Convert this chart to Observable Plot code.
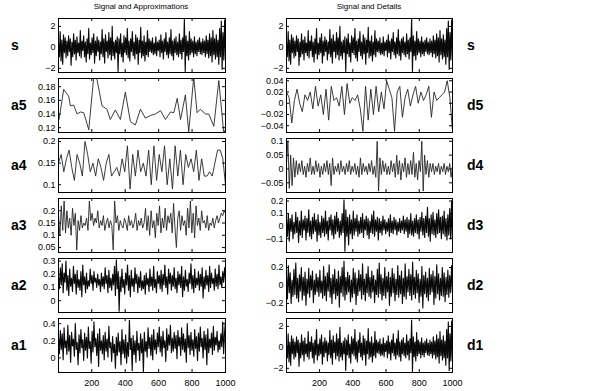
<!DOCTYPE html>
<html>
<head>
<meta charset="utf-8">
<script src="https://cdn.jsdelivr.net/npm/d3@7"></script>
<script src="https://cdn.jsdelivr.net/npm/@observablehq/plot@0.6"></script>
<style>
  html, body { margin: 0; padding: 0; background: white; }
  #chart { position: relative; width: 600px; height: 391px; overflow: hidden; font-family: "Liberation Sans", Arial, Helvetica, sans-serif; }
  .pan { position: absolute; }
  .ttl { position: absolute; font-size: 8px; color: #000; text-align: center; width: 200px; }
  .lab { position: absolute; font-size: 14px; font-weight: bold; color: #000; line-height: 14px; }
</style>
</head>
<body>
<div id="chart"></div>
<script>
// ---------- data ----------
const X_TICKS = [200, 400, 600, 800, 1000];

const S = [
 0.4,-0.9,1.5,-1.3,0.7,-1.6,1.2,-0.5,0.9,-1.0,
 0.6,-0.8,1.1,-0.4,0.8,-1.7,0.5,-0.9,1.3,-0.6,
 0.7,-1.2,1.0,-0.5,0.4,-0.8,1.6,-1.0,0.6,-0.3,
 1.1,-0.9,0.5,-1.4,0.8,-0.6,1.8,-1.1,0.4,-0.7,
 0.9,-0.5,1.3,-1.5,0.6,-0.8,1.0,-0.4,0.7,-1.2,
 0.5,-0.6,1.7,-0.9,0.8,-1.5,1.2,-0.4,0.6,-1.0,
 1.4,-0.7,0.9,-1.2,2.0,-0.8,0.5,-1.1,0.7,-0.5,
 1.0,-2.3,0.8,-0.6,1.3,-0.9,0.4,-1.4,1.1,-0.5,
 0.9,-0.7,1.8,-1.0,0.6,-1.3,0.8,-0.4,1.5,-0.8,
 0.5,-1.1,1.2,-0.6,0.9,-1.6,0.7,-0.5,1.9,-1.0,
 0.6,-0.8,1.1,-1.3,0.5,-0.7,1.6,-0.9,0.8,-0.4,
 0.6,-0.5,0.9,-0.7,0.4,-0.6,1.0,-0.8,0.5,-0.3,
 0.7,-0.9,1.2,-0.5,0.6,-1.1,0.8,-0.4,1.4,-0.7,
 0.5,-1.0,0.9,-0.6,1.7,-0.8,0.6,-1.2,0.8,-0.5,
 1.0,-0.7,0.5,-0.9,1.3,-0.6,0.7,-1.1,0.9,-0.4,
 2.7,-2.3,1.1,-0.8,0.6,-1.2,1.5,-0.7,0.8,-0.5,
 0.6,-0.9,1.0,-0.6,0.5,-0.8,0.7,-0.4,0.9,-0.6,
 0.5,-0.7,0.8,-0.5,0.6,-0.9,1.1,-0.6,0.7,-1.0,
 1.3,-0.8,0.9,-1.4,1.6,-0.7,0.8,-1.1,1.2,-0.9,
 0.7,-1.6,1.8,-0.9,2.5,-2.1,1.4,-1.2,2.6,-1.0
];

const A5_T = [4,32,62,72,92,112,132,152,182,212,232,261,291,311,341,371,401,431,461,491,521,551,581,611,641,671,691,711,731,760,780,810,830,850,880,900,930,960,990,1000];
const A5 = [0.132,0.176,0.166,0.152,0.153,0.140,0.143,0.142,0.117,0.195,0.190,0.152,0.147,0.132,0.146,0.132,0.172,0.129,0.124,0.147,0.134,0.138,0.140,0.145,0.132,0.143,0.142,0.163,0.132,0.168,0.114,0.194,0.142,0.147,0.140,0.140,0.122,0.189,0.111,0.118];

const A4 = [
 0.15,0.17,0.13,0.16,0.18,0.14,0.11,0.17,0.15,0.12,
 0.20,0.17,0.13,0.15,0.12,0.16,0.14,0.11,0.15,0.17,
 0.12,0.13,0.14,0.12,0.16,0.13,0.19,0.09,0.17,0.12,
 0.18,0.13,0.15,0.12,0.18,0.10,0.19,0.11,0.17,0.13,
 0.19,0.10,0.16,0.09,0.19,0.12,0.18,0.10,0.17,0.14,
 0.16,0.13,0.18,0.11,0.16,0.12,0.12,0.13,0.12,0.15,
 0.18,0.18,0.16,0.10
];

const A3 = [
 0.18,0.10,0.22,0.12,0.24,0.11,0.20,0.13,0.17,0.10,
 0.21,0.14,0.19,0.04,0.16,0.12,0.18,0.13,0.15,0.14,
 0.17,0.12,0.24,0.16,0.19,0.14,0.17,0.15,0.20,0.13,
 0.16,0.14,0.18,0.12,0.15,0.17,0.13,0.16,0.14,0.04,
 0.24,0.15,0.18,0.12,0.16,0.14,0.13,0.17,0.15,0.12,
 0.18,0.14,0.16,0.13,0.15,0.19,0.12,0.16,0.14,0.17,
 0.13,0.15,0.21,0.12,0.18,0.10,0.20,0.13,0.16,0.09,
 0.19,0.14,0.22,0.11,0.17,0.13,0.21,0.12,0.18,0.15,
 0.19,0.11,0.23,0.13,0.05,0.17,0.20,0.12,0.18,0.14,
 0.16,0.10,0.21,0.13,0.24,0.11,0.19,0.09,0.22,0.14,
 0.17,0.12,0.20,0.15,0.16,0.13,0.18,0.12,0.15,0.14,
 0.17,0.13,0.16,0.18,0.15,0.17,0.19,0.18,0.20,0.19
];

const A2 = [
 0.18,0.09,0.25,0.12,0.28,0.06,0.21,0.14,0.30,0.08,
 0.19,0.04,0.24,0.11,0.17,0.07,0.26,0.13,0.20,0.05,
 0.23,0.10,0.16,0.08,0.22,0.03,0.27,0.12,0.18,0.06,
 0.21,0.09,0.15,0.11,0.24,0.13,0.19,0.08,0.22,0.14,
 0.17,0.10,0.20,0.12,0.16,0.07,0.21,0.11,0.18,0.09,
 0.25,0.13,0.19,0.06,0.23,0.10,0.17,0.08,0.20,0.12,
 0.26,0.04,0.31,0.09,0.22,-0.08,0.18,0.07,0.24,0.10,
 0.16,0.05,0.21,0.12,0.27,0.08,0.19,0.03,0.23,0.11,
 0.17,0.07,0.25,0.13,0.20,0.06,0.18,0.10,0.22,0.08,
 0.15,0.09,0.19,0.05,0.21,0.12,0.17,0.07,0.24,0.11,
 0.18,0.08,0.26,0.10,0.16,0.06,0.22,0.13,0.19,0.09,
 0.23,0.07,0.20,0.12,0.27,0.10,0.18,0.05,0.24,0.13,
 0.21,0.08,0.19,0.11,0.25,0.09,0.17,0.06,0.22,0.12,
 0.20,0.10,0.26,0.03,0.18,0.08,0.23,0.11,0.16,0.07,
 0.21,0.13,0.28,0.09,0.19,0.06,0.24,0.10,0.17,0.12,
 0.22,0.08,0.20,0.11,0.25,0.02,0.18,0.09,0.23,0.12,
 0.19,0.07,0.26,0.10,0.21,0.13,0.17,0.08,0.24,0.11,
 0.20,0.09,0.27,0.12,0.18,0.10,0.22,0.14,0.25,0.16
];

const A1 = [
 0.25,0.05,0.32,0.10,0.28,-0.02,0.35,0.12,0.20,0.04,
 0.38,0.08,0.26,-0.05,0.30,0.14,0.22,0.02,0.40,0.10,
 0.18,-0.08,0.27,0.06,0.33,0.12,0.21,-0.03,0.29,0.09,
 0.24,0.00,0.36,0.11,0.19,-0.06,0.31,0.07,0.42,0.13,
 0.23,0.03,0.28,-0.10,0.34,0.09,0.20,0.05,0.26,-0.02,
 0.30,0.08,0.22,0.01,0.37,0.12,0.18,-0.04,0.25,0.06,
 0.16,-0.12,0.24,0.03,0.29,0.07,0.19,-0.08,0.33,0.05,
 0.21,0.00,0.27,-0.06,0.18,0.02,0.44,0.10,0.23,-0.15,
 0.26,0.04,0.20,-0.05,0.31,0.09,0.17,-0.03,0.28,0.06,
 0.22,-0.16,0.30,0.08,0.19,0.01,0.35,0.11,0.24,0.03,
 0.27,-0.02,0.33,0.10,0.21,0.05,0.29,0.13,0.36,0.07,
 0.25,0.02,0.31,0.12,0.20,-0.04,0.34,0.09,0.27,0.15,
 0.38,0.06,0.23,0.08,0.30,0.11,0.26,-0.01,0.32,0.14,
 0.24,0.03,0.35,0.10,0.28,0.07,0.22,-0.05,0.40,0.12,
 0.26,0.04,0.30,0.09,0.21,0.02,0.33,0.11,0.25,-0.03,
 0.29,0.08,0.36,0.13,0.23,0.00,0.31,0.10,0.27,-0.08,
 0.34,0.06,0.22,0.12,0.29,0.04,0.37,0.09,0.24,0.15,
 0.31,0.07,0.20,0.10,0.28,0.13,0.42,0.05,0.30,0.44
];

const D5 = [
 0.020,0.010,-0.035,0.005,0.025,0.000,-0.015,0.015,0.005,0.020,
 -0.010,0.030,-0.005,0.015,-0.020,0.025,-0.030,0.030,0.005,0.010,
 -0.005,0.030,-0.020,0.035,0.000,0.010,0.005,0.015,-0.010,-0.050,
 0.030,-0.030,0.025,-0.020,0.030,-0.015,0.020,-0.010,0.040,0.025,
 0.010,-0.050,0.020,0.030,-0.025,0.010,0.025,-0.005,0.015,0.030,
 0.000,0.020,0.005,0.015,0.030,-0.025,0.020,0.005,0.010,0.015,
 0.020,0.040,0.010,-0.050
];

const D4 = [
 0.02,0.10,-0.07,0.05,-0.06,0.04,-0.03,0.03,-0.02,0.02,
 -0.01,0.03,-0.02,0.01,-0.03,0.02,-0.01,0.04,-0.02,0.01,
 -0.02,0.03,-0.01,0.02,-0.03,0.01,-0.02,0.02,-0.01,0.03,
 -0.02,0.02,-0.06,0.04,-0.02,0.01,-0.01,0.02,-0.02,0.03,
 -0.01,0.01,-0.02,0.02,-0.01,0.03,-0.02,0.01,-0.01,0.02,
 -0.02,0.01,-0.03,0.04,-0.02,0.02,-0.01,0.01,-0.02,0.02,
 -0.01,0.03,-0.02,0.01,-0.03,0.10,-0.08,0.04,-0.02,0.03,
 -0.01,0.02,-0.02,0.01,-0.02,0.03,-0.01,0.02,-0.03,0.05,
 -0.02,0.03,-0.04,0.02,-0.01,0.04,-0.03,0.02,-0.02,0.03,
 -0.02,0.06,-0.03,0.02,-0.04,0.03,-0.01,0.10,-0.08,0.05,
 -0.02,0.03,-0.03,0.02,-0.01,0.02,-0.02,0.01,-0.01,0.02,
 -0.02,0.01,-0.01,0.02,-0.02,0.01,-0.01,0.02,-0.03,0.01
];

const D3 = [
 0.05,-0.08,0.10,-0.12,0.06,-0.04,0.09,-0.10,0.03,-0.06,
 0.11,-0.05,0.07,-0.13,0.04,-0.07,0.12,-0.09,0.05,-0.03,
 0.08,-0.11,0.06,-0.05,0.13,-0.08,0.04,-0.10,0.07,-0.06,
 0.10,-0.04,0.05,-0.12,0.09,-0.07,0.03,-0.09,0.08,-0.05,
 0.06,-0.08,0.12,-0.06,0.04,-0.11,0.07,-0.03,0.09,-0.07,
 0.05,-0.10,0.08,-0.06,0.11,-0.04,0.06,-0.09,0.04,-0.07,
 0.10,-0.05,0.21,-0.20,0.13,-0.08,0.07,-0.15,0.09,-0.06,
 0.05,-0.10,0.12,-0.07,0.06,-0.04,0.09,-0.08,0.04,-0.06,
 0.07,-0.05,0.10,-0.09,0.05,-0.03,0.08,-0.07,0.06,-0.10,
 0.04,-0.05,0.09,-0.06,0.12,-0.08,0.05,-0.04,0.07,-0.11,
 0.06,-0.05,0.04,-0.07,0.08,-0.03,0.05,-0.06,0.03,-0.04,
 0.06,-0.08,0.09,-0.05,0.04,-0.06,0.07,-0.03,0.05,-0.07,
 0.03,-0.04,0.06,-0.05,0.04,-0.03,0.08,-0.06,0.05,-0.04,
 0.07,-0.09,0.05,-0.06,0.10,-0.07,0.04,-0.08,0.06,-0.05,
 0.09,-0.06,0.05,-0.10,0.07,-0.04,0.11,-0.07,0.06,-0.09,
 0.08,-0.05,0.15,-0.08,0.06,-0.12,0.09,-0.06,0.11,-0.07,
 0.05,-0.09,0.10,-0.06,0.13,-0.05,0.07,-0.10,0.08,-0.06,
 0.12,-0.08,0.06,-0.11,0.09,-0.07,0.14,-0.10,0.20,-0.12
];

const D2 = [
 0.10,-0.15,0.22,-0.08,0.14,-0.20,0.06,-0.12,0.18,-0.10,
 0.25,-0.14,0.08,-0.18,0.12,-0.06,0.20,-0.16,0.09,-0.11,
 0.15,-0.22,0.07,-0.09,0.19,-0.13,0.11,-0.05,0.16,-0.19,
 0.06,-0.10,0.13,-0.07,0.09,-0.12,0.17,-0.08,0.05,-0.14,
 0.21,-0.11,0.10,-0.17,0.14,-0.06,0.23,-0.13,0.08,-0.20,
 0.12,-0.09,0.18,-0.15,0.07,-0.11,0.16,-0.24,0.10,-0.08,
 0.20,-0.12,0.27,-0.16,0.09,-0.10,0.15,-0.07,0.11,-0.18,
 0.06,-0.13,0.19,-0.09,0.14,-0.21,0.08,-0.11,0.17,-0.06,
 0.12,-0.15,0.24,-0.10,0.07,-0.17,0.13,-0.08,0.21,-0.12,
 0.09,-0.14,0.16,-0.07,0.11,-0.19,0.06,-0.10,0.18,-0.13,
 0.25,-0.09,0.12,-0.16,0.08,-0.11,0.20,-0.14,0.10,-0.07,
 0.15,-0.22,0.09,-0.12,0.19,-0.08,0.13,-0.17,0.07,-0.10,
 0.22,-0.13,0.11,-0.09,0.16,-0.20,0.08,-0.12,0.24,-0.15,
 0.10,-0.07,0.18,-0.11,0.12,-0.16,0.26,-0.10,0.09,-0.14,
 0.17,-0.08,0.13,-0.19,0.07,-0.12,0.21,-0.25,0.11,-0.09,
 0.15,-0.13,0.08,-0.17,0.19,-0.10,0.12,-0.07,0.16,-0.21,
 0.10,-0.14,0.23,-0.09,0.13,-0.16,0.08,-0.11,0.20,-0.12,
 0.14,-0.18,0.09,-0.10,0.17,-0.13,0.11,-0.08,0.22,-0.06
];

const D1 = [
 0.2,-1.0,1.3,-1.4,0.5,-1.7,1.1,-0.6,0.8,-1.1,
 0.5,-0.9,1.0,-0.5,0.7,-1.8,0.4,-1.0,1.2,-0.7,
 0.6,-1.3,0.9,-0.6,0.3,-0.9,1.5,-1.1,0.5,-0.4,
 1.0,-1.0,0.4,-1.5,0.7,-0.7,1.7,-1.2,0.3,-0.8,
 0.8,-0.6,1.2,-1.6,0.5,-0.9,0.9,-0.5,0.6,-1.3,
 0.4,-0.7,1.6,-1.0,0.7,-1.6,1.1,-0.5,0.5,-1.1,
 1.3,-0.8,0.8,-1.3,1.9,-0.9,0.4,-1.2,0.6,-0.6,
 0.9,-2.2,0.7,-0.7,1.2,-1.0,0.3,-1.5,1.0,-0.6,
 0.8,-0.8,1.7,-1.1,0.5,-1.4,0.7,-0.5,1.4,-0.9,
 0.4,-1.2,1.1,-0.7,0.8,-1.7,0.6,-0.6,1.8,-1.1,
 0.5,-0.9,1.0,-1.4,0.4,-0.8,1.5,-1.0,0.7,-0.5,
 0.5,-0.6,0.8,-0.8,0.3,-0.7,0.9,-0.9,0.4,-0.4,
 0.6,-1.0,1.1,-0.6,0.5,-1.2,0.7,-0.5,1.3,-0.8,
 0.4,-1.1,0.8,-0.7,1.6,-0.9,0.5,-1.3,0.7,-0.6,
 0.9,-0.8,0.4,-1.0,1.2,-0.7,0.6,-1.2,0.8,-0.5,
 2.6,-2.3,1.0,-0.9,0.5,-1.3,1.4,-0.8,0.7,-0.6,
 0.5,-1.0,0.9,-0.7,0.4,-0.9,0.6,-0.5,0.8,-0.7,
 0.4,-0.8,0.7,-0.6,0.5,-1.0,1.0,-0.7,0.6,-1.1,
 1.2,-0.9,0.8,-1.5,1.5,-0.8,0.7,-1.2,1.1,-1.0,
 0.6,-1.7,1.7,-1.0,2.4,-2.2,1.3,-1.3,2.5,-1.1
];

const LEFT_LABELS = ["s", "a5", "a4", "a3", "a2", "a1"];
const RIGHT_LABELS = ["s", "d5", "d4", "d3", "d2", "d1"];
const LEFT_TICKS = [[-2,0,2],[0.12,0.14,0.16,0.18],[0.1,0.15,0.2],[0.05,0.1,0.15,0.2],[0,0.1,0.2,0.3],[0,0.2,0.4]];
const RIGHT_TICKS = [[-2,0,2],[-0.04,-0.02,0,0.02,0.04],[-0.05,0,0.05,0.1],[-0.1,0,0.1,0.2],[-0.2,0,0.2],[-2,0,2]];
const LEFT_DOMAINS = [[-2.4,2.75],[0.113,0.192],[0.082,0.207],[0.03,0.25],[-0.09,0.32],[-0.17,0.46]];
const RIGHT_DOMAINS = [[-2.4,2.75],[-0.052,0.044],[-0.085,0.11],[-0.21,0.22],[-0.3,0.3],[-2.4,2.75]];
const LEFT_SERIES = [S, A5, A4, A3, A2, A1];
const RIGHT_SERIES = [S, D5, D4, D3, D2, D1];
const LEFT_X = [null, A5_T, null, null, null, null];

// ---------- drawing ----------
const chart = document.getElementById("chart");
const FONT = '"Liberation Sans", Arial, Helvetica, sans-serif';
const fmt = d => String(d).replace("-", "\u2212");

function addPanel(values, xs, domain, ticks, side, row) {
  const isBottom = row === 5;
  const dense = values.length > 150;
  const boxH = 54;
  const boxTop = 18 + 60 * row;
  const mt = 4, mb = isBottom ? 22 : 4;
  const ml = side === "L" ? 58 : 56;
  const boxW = side === "L" ? 167 : 166;
  const mr = 14;
  const data = values.map((v, i) => ({ t: xs ? xs[i] : 1 + i * 999 / (values.length - 1), v }));
  const marks = [
    Plot.line(data, { x: "t", y: "v", stroke: dense ? "#0a0a0a" : "#262626", strokeWidth: dense ? 1.15 : 0.9, clip: true }),
    Plot.tickX(X_TICKS, { x: d => d, stroke: "black", insetTop: boxH - 3 }),
    Plot.tickX(X_TICKS, { x: d => d, stroke: "black", insetBottom: boxH - 3 }),
    Plot.tickY(ticks, { y: d => d, stroke: "black", insetRight: boxW - 3 }),
    Plot.tickY(ticks, { y: d => d, stroke: "black", insetLeft: boxW - 3 }),
    Plot.axisY(ticks, { anchor: "left", label: null, tickSize: 0, tickPadding: 3, tickFormat: fmt, fontSize: 9 }),
    Plot.frame({ stroke: "black", strokeWidth: 1 })
  ];
  if (isBottom) marks.push(Plot.axisX(X_TICKS, { anchor: "bottom", label: null, tickSize: 0, tickPadding: 7, tickFormat: d => String(d), fontSize: 9 }));
  const svg = Plot.plot({
    width: ml + boxW + mr,
    height: mt + boxH + mb,
    marginTop: mt, marginBottom: mb, marginLeft: ml, marginRight: mr,
    x: { domain: [1, 1000], axis: null, label: null },
    y: { domain, axis: null, label: null },
    style: { fontFamily: FONT, fontSize: "9px", background: "transparent", color: "black", overflow: "visible" },
    marks
  });
  svg.classList.add("pan");
  svg.style.position = "absolute";
  svg.style.left = (side === "L" ? 0 : 230) + "px";
  svg.style.top = (boxTop - mt) + "px";
  chart.appendChild(svg);
}

for (let r = 0; r < 6; r++) {
  addPanel(LEFT_SERIES[r], LEFT_X[r], LEFT_DOMAINS[r], LEFT_TICKS[r], "L", r);
  addPanel(RIGHT_SERIES[r], null, RIGHT_DOMAINS[r], RIGHT_TICKS[r], "R", r);
}

function addText(cls, text, left, top, extra) {
  const d = document.createElement("div");
  d.className = cls;
  d.textContent = text;
  d.style.left = left + "px";
  d.style.top = top + "px";
  if (extra) Object.assign(d.style, extra);
  chart.appendChild(d);
}
addText("ttl", "Signal and Approximations", 41, 2);
addText("ttl", "Signal and Details", 269, 2);
for (let r = 0; r < 6; r++) {
  addText("lab", LEFT_LABELS[r], 11, 18 + 60 * r + 20);
  addText("lab", RIGHT_LABELS[r], 467, 18 + 60 * r + 20);
}
</script>
</body>
</html>
